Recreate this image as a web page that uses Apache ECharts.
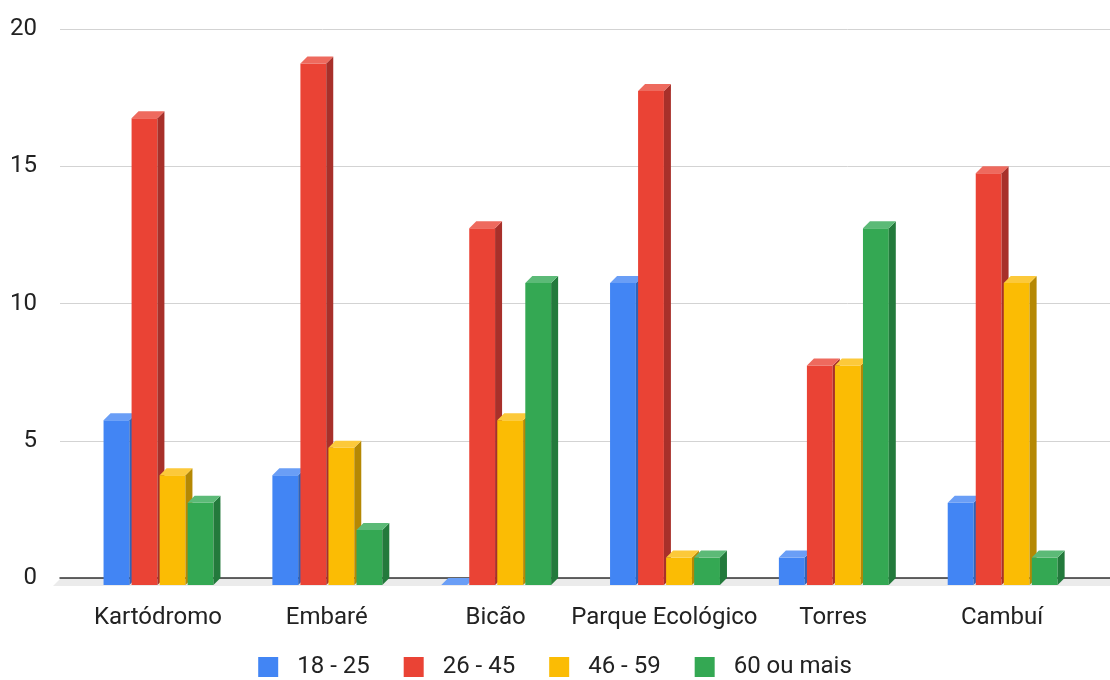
<!DOCTYPE html>
<html>
<head>
<meta charset="utf-8">
<script src="https://cdn.jsdelivr.net/npm/echarts@6/dist/echarts.min.js"></script>
<style>
html,body{margin:0;padding:0;background:#fff;}
#chart{width:1110px;height:680px;}
</style>
</head>
<body>
<div id="chart"></div>
<script>
const categories = ['Kartódromo', 'Embaré', 'Bicão', 'Parque Ecológico', 'Torres', 'Cambuí'];
const seriesNames = ['18 - 25', '26 - 45', '46 - 59', '60 ou mais'];
const v18_25 = [6, 4, 0, 11, 1, 3];
const v26_45 = [17, 19, 13, 18, 8, 15];
const v46_59 = [4, 5, 6, 1, 8, 11];
const v60 = [3, 2, 11, 1, 13, 1];
const yTicks = [0, 5, 10, 15, 20];

const values = [v18_25, v26_45, v46_59, v60];
const front = ['#4285F4', '#EA4335', '#FBBC04', '#34A853'];
const topC = ['#6a9ef6', '#ee6a5e', '#fcc93a', '#5cba77'];
const side = ['#2f63b8', '#a8302a', '#b58803', '#237a3c'];
const D = 7;
const FONT = 'Roboto';

function barRender(idx) {
  return function (params, api) {
    const ci = api.value(0), v = api.value(1);
    const t = api.coord([ci, v]);
    const b = api.coord([ci, 0]);
    const bw = api.size([1, 0])[0];
    const x0 = t[0] + bw * (-0.322 + idx * 0.166);
    const w = bw * 0.153;
    const x1 = x0 + w;
    const yt = t[1] + D, yb = b[1] + D;
    return {
      type: 'group',
      children: [
        { type: 'rect', shape: { x: x0, y: yt, width: w, height: yb - yt }, style: { fill: front[idx] } },
        { type: 'polygon', shape: { points: [[x1, yt], [x1 + D, yt - D], [x1 + D, yb - D], [x1, yb]] }, style: { fill: side[idx] } },
        { type: 'polygon', shape: { points: [[x0, yt], [x1, yt], [x1 + D, yt - D], [x0 + D, yt - D]] }, style: { fill: topC[idx] } }
      ]
    };
  };
}

const chart = echarts.init(document.getElementById('chart'), null, { renderer: 'canvas' });
const series = [{
  type: 'custom',
  xAxisIndex: 0, yAxisIndex: 0,
  silent: true,
  z: 1,
  data: [[0, 0]],
  renderItem: function (params, api) {
    const l = api.coord([0, 0]);
    const r = api.coord([1, 0]);
    return {
      type: 'polygon',
      shape: { points: [[l[0], l[1] + 1], [r[0], r[1] + 1], [r[0], r[1] + D + 1], [l[0] - D, l[1] + D + 1]] },
      style: { fill: '#ebebeb' }
    };
  }
}];
values.forEach(function (arr, i) {
  series.push({
    name: seriesNames[i],
    type: 'custom',
    xAxisIndex: 1, yAxisIndex: 1,
    z: 3,
    itemStyle: { color: front[i] },
    data: arr.map(function (v, ci) { return [ci, v]; }),
    renderItem: barRender(i)
  });
});

chart.setOption({
  animation: false,
  textStyle: { fontFamily: FONT },
  grid: [
    { left: 60, right: 0, top: 29, bottom: 102 },
    { left: 73.5, right: 23.5, top: 29, bottom: 102 }
  ],
  xAxis: [
    { type: 'value', gridIndex: 0, min: 0, max: 1, axisLabel: { show: false }, axisTick: { show: false }, splitLine: { show: false },
      axisLine: { show: true, lineStyle: { color: '#333333', width: 1.5 } } },
    { type: 'category', gridIndex: 1, data: categories, boundaryGap: true,
      axisLine: { show: false }, axisTick: { show: false },
      axisLabel: { interval: 0, hideOverlap: false, fontSize: 24, color: '#222222', margin: 28, fontFamily: FONT } }
  ],
  yAxis: [
    { type: 'value', gridIndex: 0, min: yTicks[0], max: yTicks[yTicks.length - 1], interval: 5,
      axisLine: { show: false }, axisTick: { show: false },
      axisLabel: { fontSize: 24, color: '#222222', margin: 23, fontFamily: FONT },
      splitLine: { lineStyle: { color: '#d3d3d3', width: 1 } } },
    { type: 'value', gridIndex: 1, min: yTicks[0], max: yTicks[yTicks.length - 1], interval: 5, show: false, splitLine: { show: false } }
  ],
  legend: {
    data: seriesNames,
    left: 'center',
    top: 650,
    icon: 'rect',
    itemWidth: 20,
    itemHeight: 20,
    itemGap: 34,
    textStyle: { fontSize: 24, color: '#222222', fontFamily: FONT, padding: [0, 0, 0, 14] }
  },
  series: series
});
</script>
</body>
</html>
